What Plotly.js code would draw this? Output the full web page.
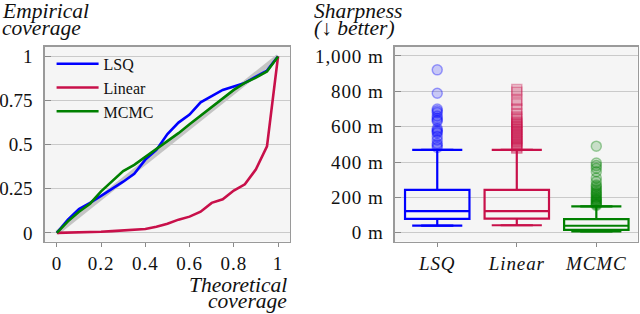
<!DOCTYPE html>
<html>
<head>
<meta charset="utf-8">
<script src="https://cdn.plot.ly/plotly-3.0.1.min.js"></script>
<style>
html,body{margin:0;padding:0;background:#fff}
#chart{width:640px;height:314px}
#chart g.xtick text, #chart g.x2tick text, #chart g.y2tick text{letter-spacing:0.9px}
</style>
</head>
<body>
<div id="chart"></div>
<script>
// ---- Coverage data (left panel) ----
const coverageX = [0,0.05,0.1,0.15,0.2,0.25,0.3,0.35,0.4,0.45,0.5,0.55,0.6,0.65,0.7,0.75,0.8,0.85,0.9,0.95,1];
const lsqCoverage = [0,0.075,0.135,0.17,0.21,0.25,0.29,0.335,0.415,0.47,0.56,0.625,0.67,0.74,0.775,0.81,0.83,0.85,0.885,0.92,1];
const linearCoverage = [0,0.001,0.002,0.003,0.006,0.01,0.014,0.018,0.022,0.035,0.052,0.075,0.092,0.12,0.17,0.19,0.24,0.275,0.36,0.49,1];
const mcmcCoverage = [0,0.065,0.12,0.165,0.235,0.29,0.35,0.385,0.43,0.47,0.52,0.565,0.615,0.665,0.71,0.765,0.81,0.85,0.88,0.915,1];
const idealX = [0,1];
const idealY = [0,1];
const coverageXTicks = [0,0.2,0.4,0.6,0.8,1];
const coverageXTickText = ["0","0.2","0.4","0.6","0.8","1"];
const coverageYTicks = [0,0.25,0.5,0.75,1];
const coverageYTickText = ["0","0.25","0.5","0.75","1"];

// ---- Sharpness data (right panel) ----
const methods = ["LSQ","Linear","MCMC"];
const boxQ1 = [79, 80, 17];
const boxMedian = [123, 123, 40];
const boxQ3 = [243, 243, 77];
const boxLower = [41, 43, 8];
const boxUpper = [469, 469, 150];
const lsqOutliers = [921,789,700,690,680,660,648,638,630,590,580,572,565,545,525,505,495,482];
const linearOutliers = [810,795,750,730,700,670,655,640,625,615,605,595,585,575,565,555,545,535,525,515,505,495,485,478];
const mcmcOutliers = [490,395,380,365,345,310,290,270,262,250,240,230,222,215,205,198,190,185,178,172,165,160,155];
const sharpYTicks = [0,200,400,600,800,1000];
const sharpYTickText = ["0 m","200 m","400 m","600 m","800 m","1,000 m"];

const colors = {LSQ:"#0000ff", Linear:"#c8104a", MCMC:"#008000"};
const fills = {LSQ:"rgba(0,0,255,0.18)", Linear:"rgba(200,16,74,0.18)", MCMC:"rgba(0,128,0,0.18)"};
const edges = {LSQ:"rgba(0,0,255,0.35)", Linear:"rgba(200,16,74,0.35)", MCMC:"rgba(0,128,0,0.35)"};
const outliers = [lsqOutliers, linearOutliers, mcmcOutliers];
const symbols = ["circle","square","circle"];

const FONT = "'Liberation Serif', 'DejaVu Serif', serif";
const traces = [];

traces.push({x:idealX, y:idealY, mode:"lines", line:{color:"#c4c4c4", width:5}, showlegend:false, hoverinfo:"skip", xaxis:"x", yaxis:"y"});
traces.push({x:coverageX, y:lsqCoverage, mode:"lines", name:"LSQ", line:{color:colors.LSQ, width:2.6}, xaxis:"x", yaxis:"y"});
traces.push({x:coverageX, y:linearCoverage, mode:"lines", name:"Linear", line:{color:colors.Linear, width:2.6}, xaxis:"x", yaxis:"y"});
traces.push({x:coverageX, y:mcmcCoverage, mode:"lines", name:"MCMC", line:{color:colors.MCMC, width:2.6}, xaxis:"x", yaxis:"y"});

const capHalf = 0.315;
methods.forEach((m, i) => {
  traces.push({
    type:"box", x:[i], q1:[boxQ1[i]], median:[boxMedian[i]], q3:[boxQ3[i]],
    lowerfence:[boxLower[i]], upperfence:[boxUpper[i]],
    width:0.81, line:{color:colors[m], width:2.2}, fillcolor:"rgba(0,0,0,0)",
    boxpoints:false, showlegend:false, hoverinfo:"skip", xaxis:"x2", yaxis:"y2"
  });
  traces.push({
    x:[i-capHalf, i+capHalf, null, i-capHalf, i+capHalf],
    y:[boxUpper[i], boxUpper[i], null, boxLower[i], boxLower[i]],
    mode:"lines", line:{color:colors[m], width:2.2}, showlegend:false, hoverinfo:"skip", xaxis:"x2", yaxis:"y2"
  });
  traces.push({
    x:outliers[i].map(() => i), y:outliers[i], mode:"markers",
    marker:{symbol:symbols[i], size:10, color:fills[m], line:{color:edges[m], width:1.5}},
    showlegend:false, hoverinfo:"skip", xaxis:"x2", yaxis:"y2"
  });
});

const axisCommon = {showline:true, mirror:true, linecolor:"#9a9a9a", linewidth:1.3, zeroline:false,
  tickfont:{family:FONT, size:19, color:"#111"}, tickcolor:"#8a8a8a", fixedrange:true};

const TF = {family:FONT, size:21.5, style:"italic", color:"#111"};
const layout = {
  width:640, height:314, margin:{l:0,r:0,t:0,b:0},
  paper_bgcolor:"#ffffff", plot_bgcolor:"#f5f5f5",
  font:{family:FONT},
  showlegend:true,
  legend:{x:0.0806, xanchor:"left", y:0.851, yanchor:"top", bgcolor:"rgba(0,0,0,0)", itemwidth:42,
    font:{family:FONT, size:16, color:"#111"}, tracegroupgap:0},
  xaxis:Object.assign({}, axisCommon, {domain:[0.0698,0.4531], range:[-0.055,1.054],
    tickvals:coverageXTicks, ticktext:coverageXTickText, showgrid:false, ticks:"outside", ticklen:4, anchor:"y"}),
  yaxis:Object.assign({}, axisCommon, {domain:[0.2303,0.8513], range:[-0.05,1.055],
    tickvals:coverageYTicks, ticktext:coverageYTickText, showgrid:true, gridcolor:"#cacaca", gridwidth:1,
    ticks:"inside", ticklen:6, ticklabelstandoff:7, anchor:"x"}),
  xaxis2:Object.assign({}, axisCommon, {domain:[0.6167,0.9964], range:[-0.535,2.52],
    tickvals:[0,1,2], ticktext:methods, showgrid:false, ticks:"outside", ticklen:4, anchor:"y2",
    tickfont:{family:FONT, size:19, color:"#111", style:"italic"}}),
  yaxis2:Object.assign({}, axisCommon, {domain:[0.2303,0.8513], range:[-50,1052],
    tickvals:sharpYTicks, ticktext:sharpYTickText, showgrid:true, gridcolor:"#cacaca", gridwidth:1,
    ticks:"inside", ticklen:6, ticklabelstandoff:6, anchor:"x2"}),
  annotations:[
    {text:"Empirical", xref:"paper", yref:"paper", x:0, y:1.008, xanchor:"left", yanchor:"top", showarrow:false, font:TF},
    {text:"coverage", xref:"paper", yref:"paper", x:0, y:0.956, xanchor:"left", yanchor:"top", showarrow:false, font:TF},
    {text:"Sharpness", xref:"paper", yref:"paper", x:0.488, y:1.008, xanchor:"left", yanchor:"top", showarrow:false, font:TF},
    {text:"(↓ better)", xref:"paper", yref:"paper", x:0.488, y:0.956, xanchor:"left", yanchor:"top", showarrow:false, font:TF},
    {text:"Theoretical", xref:"paper", yref:"paper", x:0.452, y:0.136, xanchor:"right", yanchor:"top", showarrow:false, font:TF},
    {text:"coverage", xref:"paper", yref:"paper", x:0.452, y:0.087, xanchor:"right", yanchor:"top", showarrow:false, font:TF}
  ]
};

Plotly.newPlot("chart", traces, layout, {staticPlot:true, displayModeBar:false});
</script>
</body>
</html>
